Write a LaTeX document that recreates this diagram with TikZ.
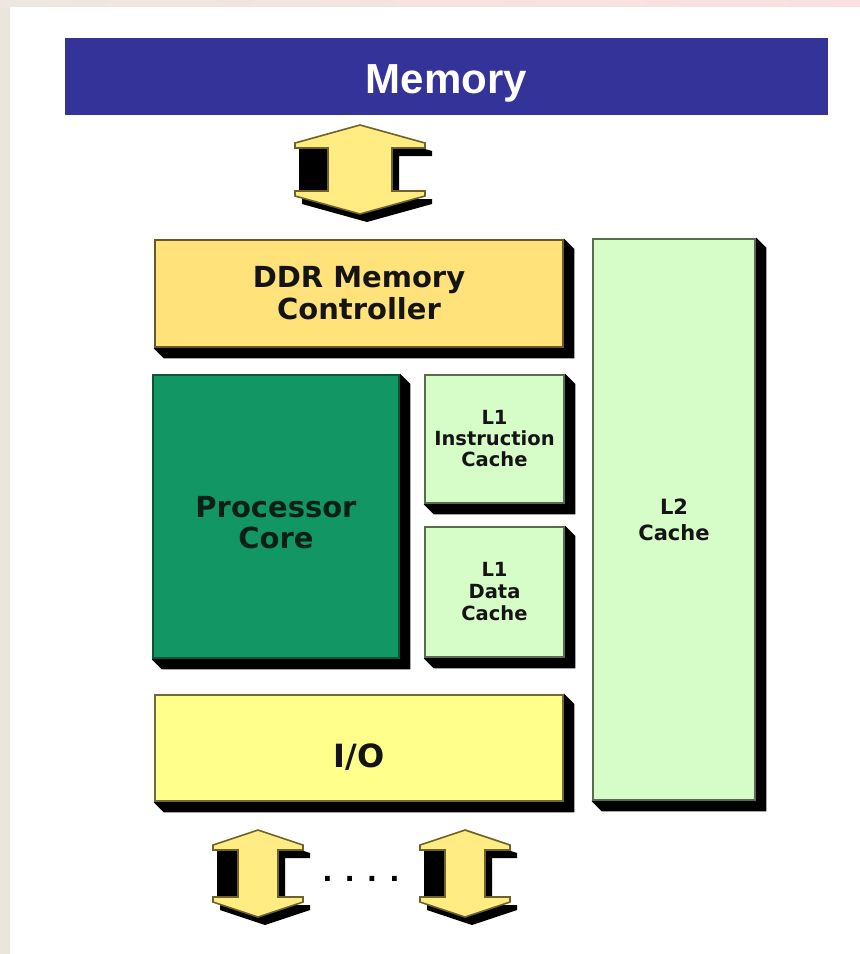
\documentclass[tikz,border=0pt]{standalone}
\usepackage{fontspec}
\newfontfamily\vfont{DejaVu Sans}
\newfontfamily\afont{Liberation Sans}
\usetikzlibrary{calc,backgrounds}
\definecolor{membar}{RGB}{51,51,153}
\definecolor{ddrfill}{RGB}{255,226,122}
\definecolor{ddrline}{RGB}{105,88,40}
\definecolor{procfill}{RGB}{18,150,100}
\definecolor{procline}{RGB}{10,85,55}
\definecolor{cachefill}{RGB}{214,252,200}
\definecolor{cacheline}{RGB}{90,108,80}
\definecolor{iofill}{RGB}{255,255,140}
\definecolor{ioline}{RGB}{115,105,55}
\definecolor{arrfill}{RGB}{255,236,130}
\definecolor{arrline}{RGB}{110,98,40}
\definecolor{txt}{RGB}{20,20,20}
\definecolor{bgleft}{RGB}{234,230,222}
\definecolor{bgtopl}{RGB}{238,230,224}
\definecolor{bgtopr}{RGB}{250,224,224}
% arrow shape: cx, ytop, ybot, half head, half shaft, head slope, head thickness, options
\newcommand\arrowshape[8]{%
  \path[#8] (#1,#2) -- ({#1+#4},{#2+#6}) -- ({#1+#4},{#2+#6+#7}) -- ({#1+#5},{#2+#6+#7})
   -- ({#1+#5},{#3-#6-#7}) -- ({#1+#4},{#3-#6-#7}) -- ({#1+#4},{#3-#6}) -- (#1,#3)
   -- ({#1-#4},{#3-#6}) -- ({#1-#4},{#3-#6-#7}) -- ({#1-#5},{#3-#6-#7})
   -- ({#1-#5},{#2+#6+#7}) -- ({#1-#4},{#2+#6+#7}) -- ({#1-#4},{#2+#6}) -- cycle;}
\newcommand\blkarrow[7]{%
  \arrowshape{#1}{#2}{#3}{#4}{#5}{#6}{#7}{fill=black,shift={(7,8)}}
  \fill[black] ({#1-#4+4},{#2+#6+#7}) rectangle ({#1-#5},{#3-#6-#7});
  \arrowshape{#1}{#2}{#3}{#4}{#5}{#6}{#7}{fill=arrfill,draw=arrline,line width=1.6pt,line join=miter}}
\newcommand\boxshadow[1]{%
  \fill[black] (#1.north east) -- ++(10,10) -- ($(#1.south east)+(10,10)$)
    -- ($(#1.south west)+(10,10)$) -- (#1.south west) -- cycle;}
\tikzset{
  blk/.style={draw, rectangle, line width=2.5pt, inner sep=0pt, text=txt, align=center},
  ddrbox/.style={blk, fill=ddrfill, draw=ddrline},
  procbox/.style={blk, fill=procfill, draw=procline, text={rgb,255:red,10;green,32;blue,22}},
  cachebox/.style={blk, fill=cachefill, draw=cacheline},
  iobox/.style={blk, fill=iofill, draw=ioline},
}
\begin{document}
\begin{tikzpicture}[x=1pt,y=-1pt]
\useasboundingbox (0,0) rectangle (860,954);
% boxes
\node[rectangle, fill=membar, minimum width=763pt, minimum height=77pt, inner sep=0pt,
      text height=40pt, text depth=7pt,
      text=white, font=\afont\bfseries\fontsize{42}{44}\selectfont] (mem) at (446.5,76.5) {Memory};
\node[ddrbox, minimum width=408pt, minimum height=107pt,
      font=\vfont\bfseries\fontsize{29}{32}\selectfont] (ddr) at (359,293.5) {DDR Memory\\Controller};
\node[procbox, minimum width=246pt, minimum height=283pt,
      font=\vfont\bfseries\fontsize{29}{31}\selectfont] (proc) at (276,516.5) {\rule{0pt}{34pt}Processor\\Core};
\node[cachebox, minimum width=139pt, minimum height=128pt,
      font=\vfont\bfseries\fontsize{19.5}{21}\selectfont] (l1i) at (494.5,439) {L1\\Instruction\\Cache};
\node[cachebox, minimum width=139pt, minimum height=130pt,
      font=\vfont\bfseries\fontsize{19.5}{22}\selectfont] (l1d) at (494.5,592) {L1\\Data\\Cache};
\node[cachebox, minimum width=162pt, minimum height=561pt,
      font=\vfont\bfseries\fontsize{21}{26}\selectfont] (l2) at (674,519.5) {L2\\Cache};
\node[iobox, minimum width=408pt, minimum height=106pt, text height=40pt, text depth=2pt,
      font=\vfont\bfseries\fontsize{32}{34}\selectfont] (io) at (359,748) {I/O};
\node[text=black, font=\vfont\bfseries\fontsize{27}{28}\selectfont, inner sep=0pt]
      (dots) at (361,879) {.\hspace{12pt}.\hspace{12pt}.\hspace{12pt}.};
% background and shadows
\begin{scope}[on background layer]
  \fill[bgleft] (0,0) rectangle (860,954);
  \shade[left color=bgtopl, right color=bgtopr] (0,0) rectangle (860,7);
  \fill[white] (10,7) rectangle (860,954);
  \boxshadow{ddr}
  \boxshadow{proc}
  \boxshadow{l1i}
  \boxshadow{l1d}
  \boxshadow{l2}
  \boxshadow{io}
\end{scope}
% block arrows
\blkarrow{360}{125}{214}{65}{32}{18}{5}
\blkarrow{258}{830}{917}{45}{20}{15}{5}
\blkarrow{465}{830}{917}{45}{20}{15}{5}
\end{tikzpicture}
\end{document}
